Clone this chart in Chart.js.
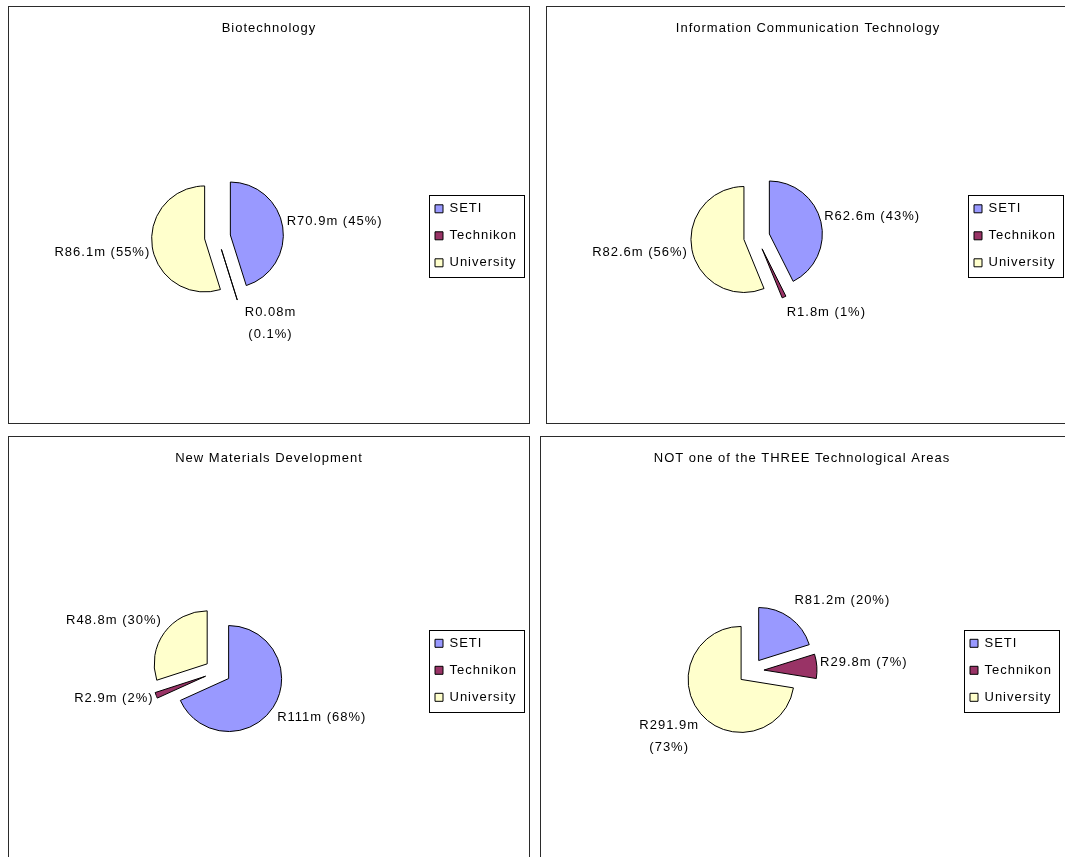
<!DOCTYPE html>
<html>
<head>
<meta charset="utf-8">
<title>Funding by institution type</title>
<script src="https://cdn.jsdelivr.net/npm/chart.js@4/dist/chart.umd.min.js"></script>
<style>
  html, body { margin: 0; padding: 0; background: #fff; }
  body { width: 1065px; height: 857px; position: relative; overflow: hidden; }
  .panel { position: absolute; border: 1px solid #2b2b2b; background: #fff; }
  .panel canvas { display: block; }
</style>
</head>
<body>
<div class="panel" id="p1" style="left:8px;top:6px;"><canvas id="c1" width="520" height="416"></canvas></div>
<div class="panel" id="p2" style="left:546px;top:6px;"><canvas id="c2" width="522" height="416"></canvas></div>
<div class="panel" id="p3" style="left:8px;top:436px;"><canvas id="c3" width="520" height="425"></canvas></div>
<div class="panel" id="p4" style="left:540px;top:436px;width:528px;height:425px;"><canvas id="c4" width="522" height="425"></canvas></div>

<script>
// ---- data (R millions) ----
const categories = ['SETI', 'Technikon', 'University'];

const biotechValues = [70.9, 0.08, 86.1];
const biotechShares = ['45%', '0.1%', '55%'];

const ictValues = [62.6, 1.8, 82.6];
const ictShares = ['43%', '1%', '56%'];

const materialsValues = [111, 2.9, 48.8];
const materialsShares = ['68%', '2%', '30%'];

const otherValues = [81.2, 29.8, 291.9];
const otherShares = ['20%', '7%', '73%'];

// ---- styling ----
const FONT = '"Liberation Sans", Arial, Helvetica, sans-serif';
const FONT_SIZE = 13;
const LETTER_SPACING = '1px';
const SLICE_COLORS = ['#9999FF', '#993366', '#FFFFCC'];
const EXPLODE = 13;      // distance each slice is pulled out from the centre
const PIE_RADIUS = 53;
const LEGEND_PAD = 14;

// per-panel layout: pie centre, legend swatch column, label wrapping and fine offsets
const panels = [
  { canvas: 'c1', title: 'Biotechnology', values: biotechValues, shares: biotechShares,
    cx: 208.5, cy: 230, swatchX: 426,
    wrap: [false, true, false], nudge: [[0, -3], [3.5, -3], [2, 2.5]] },
  { canvas: 'c2', title: 'Information Communication Technology', values: ictValues, shares: ictShares,
    cx: 209.7, cy: 230, swatchX: 427,
    wrap: [false, false, false], nudge: [[-0.7, -1.2], [-1.4, 0], [0, -0.8]] },
  { canvas: 'c3', title: 'New Materials Development', values: materialsValues, shares: materialsShares,
    cx: 208.7, cy: 234.5, swatchX: 426,
    wrap: [false, false, false], nudge: [[0, 1], [1.4, -3.3], [1.5, -2.7]] },
  { canvas: 'c4', title: 'NOT one of the THREE Technological Areas', values: otherValues, shares: otherShares,
    cx: 210, cy: 234, swatchX: 429,
    wrap: [false, false, true], nudge: [[0.4, -3.4], [-0.8, -2.4], [2.3, 4.5]] }
];

// Places the plot area and legend the way the spreadsheet laid them out,
// explodes the slices, frames the legend and writes the value labels.
const excelPie = {
  id: 'excelPie',
  afterLayout(chart, args, o) {
    const half = 160;
    chart.chartArea = {
      left: o.cx - half, right: o.cx + half, top: o.cy - half, bottom: o.cy + half,
      width: 2 * half, height: 2 * half
    };
    const lg = chart.legend;
    const w = lg.width;
    lg.left = o.swatchX - LEGEND_PAD;
    lg.right = lg.left + w;
  },
  beforeDraw(chart) {
    chart.ctx.letterSpacing = LETTER_SPACING;
  },
  beforeDatasetDraw(chart, args) {
    const ctx = chart.ctx;
    args.meta.data.forEach(arc => {
      const mid = (arc.startAngle + arc.endAngle) / 2;
      ctx.save();
      ctx.translate(Math.cos(mid) * EXPLODE, Math.sin(mid) * EXPLODE);
      arc.draw(ctx);
      ctx.restore();
    });
    return false;
  },
  afterDraw(chart, args, o) {
    const ctx = chart.ctx;
    const lg = chart.legend;
    const rowH = FONT_SIZE + LEGEND_PAD;
    const n = chart.data.labels.length;
    const y0 = (lg.top + LEGEND_PAD + lg.bottom - n * rowH) / 2;
    const midY = y0 + rowH * (n - 1) / 2 + FONT_SIZE / 2;

    ctx.save();
    ctx.strokeStyle = '#000';
    ctx.lineWidth = 1;
    const bx = Math.round(o.swatchX - 6) + 0.5;
    const by = Math.round(midY - 40.5) + 0.5;
    ctx.strokeRect(bx, by, 95, 82);

    // value labels outside each slice
    ctx.font = FONT_SIZE + 'px ' + FONT;
    ctx.letterSpacing = LETTER_SPACING;
    ctx.fillStyle = '#000';
    ctx.textAlign = 'center';
    ctx.textBaseline = 'middle';
    const ds = chart.data.datasets[0];
    chart.getDatasetMeta(0).data.forEach((arc, i) => {
      const p = arc.getProps(['x', 'y', 'startAngle', 'endAngle', 'outerRadius'], true);
      const mid = (p.startAngle + p.endAngle) / 2;
      const dx = Math.cos(mid), dy = Math.sin(mid);
      const px = p.x + dx * (EXPLODE + p.outerRadius);
      const py = p.y + dy * (EXPLODE + p.outerRadius);
      const amount = 'R' + ds.data[i] + 'm';
      const share = '(' + o.shares[i] + ')';
      const lines = o.wrap[i] ? [amount, share] : [amount + ' ' + share];
      const w = Math.max(...lines.map(t => ctx.measureText(t).width));
      const lineGap = 22;
      const h = (lines.length - 1) * lineGap + 14;
      let left = dx >= 0 ? px + 4 : px - 4 - w;
      let cy = py + dy * (h / 2 + 10);
      left += o.nudge[i][0];
      cy += o.nudge[i][1];
      lines.forEach((t, k) => {
        ctx.fillText(t, left + w / 2, cy - (h - 14) / 2 + k * lineGap);
      });
    });
    ctx.restore();
  }
};

panels.forEach(pn => {
  new Chart(document.getElementById(pn.canvas), {
    type: 'pie',
    data: {
      labels: categories,
      datasets: [{
        data: pn.values,
        backgroundColor: SLICE_COLORS,
        borderColor: '#000',
        borderWidth: 1,
        radius: PIE_RADIUS
      }]
    },
    options: {
      responsive: false,
      animation: false,
      events: [],
      layout: { padding: 0 },
      plugins: {
        title: {
          display: true,
          text: pn.title,
          color: '#000',
          font: { family: FONT, size: FONT_SIZE, weight: 'normal' },
          padding: { top: 14, bottom: 12 }
        },
        legend: {
          display: true,
          position: 'right',
          fullSize: false,
          labels: {
            color: '#000',
            font: { family: FONT, size: FONT_SIZE },
            boxWidth: 8,
            boxHeight: 8,
            padding: LEGEND_PAD
          }
        },
        tooltip: { enabled: false },
        excelPie: {
          cx: pn.cx, cy: pn.cy, swatchX: pn.swatchX,
          shares: pn.shares, wrap: pn.wrap, nudge: pn.nudge
        }
      }
    },
    plugins: [excelPie]
  });
});
</script>
</body>
</html>
